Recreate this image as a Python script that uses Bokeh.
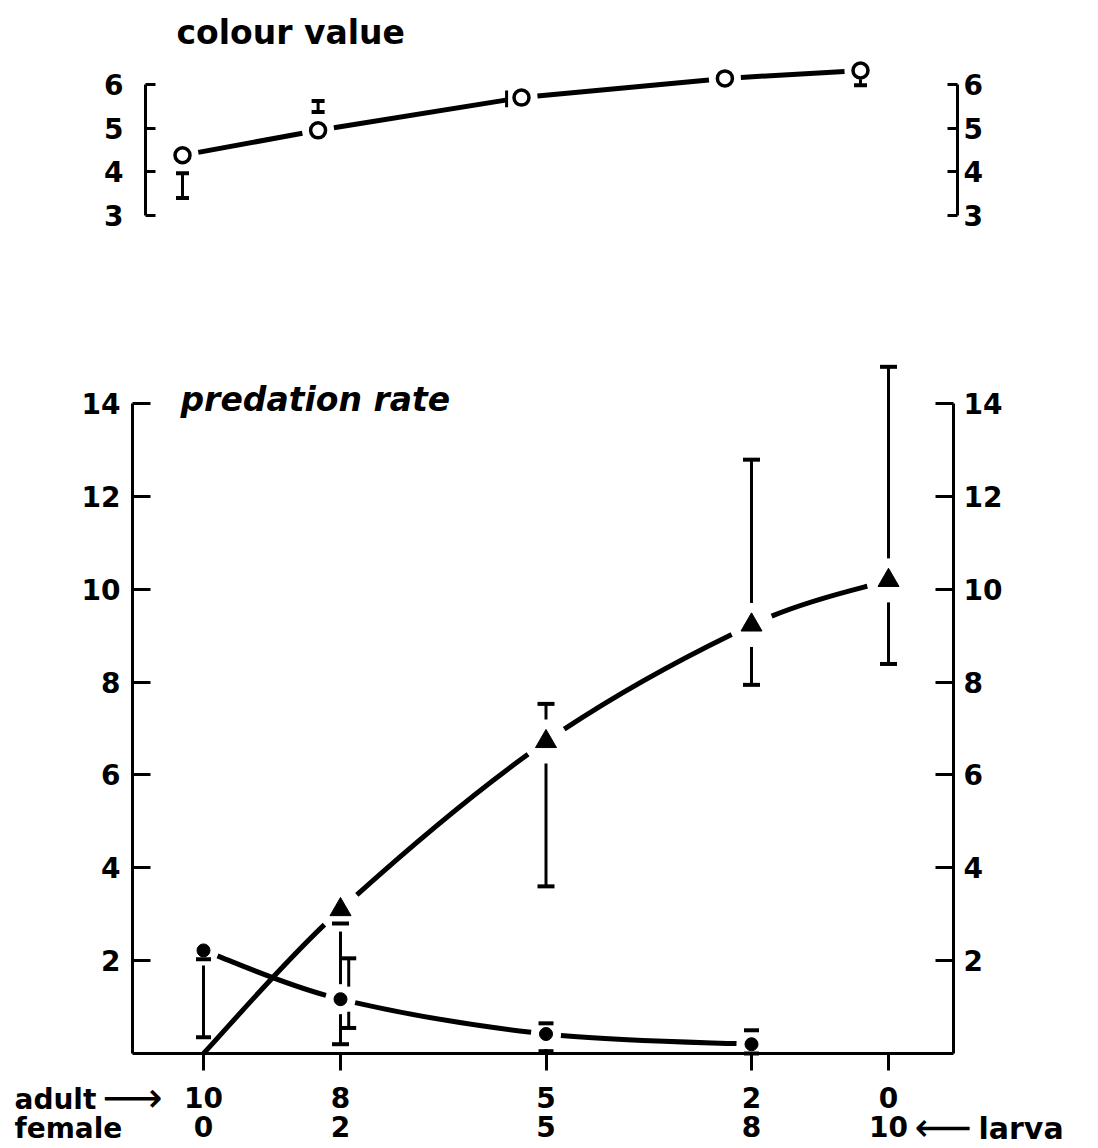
import math

from bokeh.core.properties import value
from bokeh.embed import file_html
from bokeh.layouts import column
from bokeh.models import FixedTicker, LinearAxis, Range1d
from bokeh.plotting import figure
from bokeh.resources import INLINE

nan = float("nan")

# ---- data -----------------------------------------------------------------
larva = [0, 2, 5, 8, 10]                 # larvae per 10 prey
adult_labels = ["10", "8", "5", "2", "0"]
larva_labels = ["0", "2", "5", "8", "10"]

# colour value of the prey mixture
colour_value = [4.38, 4.95, 5.70, 6.14, 6.32]
colour_low = [3.40, 5.37, 5.48, nan, 5.98]
colour_high = [3.97, 5.62, 5.86, nan, 6.12]

# predation rate, series drawn with triangles
tri_rate = [0.0, 3.10, 6.72, 9.23, 10.19]
tri_low = [nan, 0.20, 3.60, 7.94, 8.39]
tri_high = [nan, 2.80, 7.53, 12.79, 14.79]

# predation rate, series drawn with dots
dot_larva = [0, 2, 5, 8]
dot_rate = [2.22, 1.17, 0.42, 0.20]
dot_low = [0.35, 0.55, 0.05, 0.00]
dot_high = [2.03, 2.05, 0.65, 0.50]

# ---- styling ---------------------------------------------------------------
FONT = "DejaVu Sans"
TICK_FS = "28px"
TITLE_FS = "33px"
W = 1098
TOP_H = 250
BOT_H = 1148 - TOP_H
GAP_OPEN, GAP_TRI, GAP_DOT = 16, 22, 15   # clear space round each marker (px)


class Panel:
    """Linear map between data values and screen pixels of one panel."""

    def __init__(self, x0, ppx, yref, vref, ppy):
        self.x0, self.ppx, self.yref, self.vref, self.ppy = x0, ppx, yref, vref, ppy

    def X(self, x):
        return self.x0 + x * self.ppx

    def Y(self, y):
        return self.yref - (y - self.vref) * self.ppy

    def x(self, px):
        return (px - self.x0) / self.ppx

    def y(self, py):
        return self.vref + (self.yref - py) / self.ppy


def catmull_bezier(xs, ys):
    """Cubic segments of a smooth curve passing through every data point."""
    n = len(xs)
    segs = []
    for i in range(n - 1):
        im, ip = max(i - 1, 0), min(i + 2, n - 1)
        segs.append([
            (xs[i], ys[i]),
            (xs[i] + (xs[i + 1] - xs[im]) / 6, ys[i] + (ys[i + 1] - ys[im]) / 6),
            (xs[i + 1] - (xs[ip] - xs[i]) / 6, ys[i + 1] - (ys[ip] - ys[i]) / 6),
            (xs[i + 1], ys[i + 1]),
        ])
    return segs


def _lerp(a, b, t):
    return (a[0] + (b[0] - a[0]) * t, a[1] + (b[1] - a[1]) * t)


def _split(P, t):
    p01, p12, p23 = _lerp(P[0], P[1], t), _lerp(P[1], P[2], t), _lerp(P[2], P[3], t)
    p012, p123 = _lerp(p01, p12, t), _lerp(p12, p23, t)
    m = _lerp(p012, p123, t)
    return [P[0], p01, p012, m], [m, p123, p23, P[3]]


def _point(P, t):
    return _split(P, t)[0][3]


def trimmed_curve(panel, segs, gaps):
    """Shorten each cubic segment so it stops clear of the markers at its ends."""
    out = {k: [] for k in ("x0", "y0", "x1", "y1", "cx0", "cy0", "cx1", "cy1")}
    for i, seg in enumerate(segs):
        P = [(panel.X(a), panel.Y(b)) for a, b in seg]
        r0, r1 = gaps[i], gaps[i + 1]
        ta, tb = 0.0, 1.0
        if r0 > 0:
            lo, hi = 0.0, 1.0
            for _ in range(40):
                mid = (lo + hi) / 2
                if math.dist(_point(P, mid), P[0]) < r0:
                    lo = mid
                else:
                    hi = mid
            ta = lo
        if r1 > 0:
            lo, hi = 0.0, 1.0
            for _ in range(40):
                mid = (lo + hi) / 2
                if math.dist(_point(P, mid), P[3]) < r1:
                    hi = mid
                else:
                    lo = mid
            tb = hi
        _, R = _split(P, ta)
        S, _ = _split(R, (tb - ta) / (1 - ta))
        d = [(panel.x(a), panel.y(b)) for a, b in S]
        for key, (a, b) in zip((("x0", "y0"), ("cx0", "cy0"), ("cx1", "cy1"),
                                ("x1", "y1")), d):
            out[key[0]].append(a)
            out[key[1]].append(b)
    return out


def trimmed_polyline(panel, xs, ys, gap):
    x0, y0, x1, y1 = [], [], [], []
    for i in range(len(xs) - 1):
        P = (panel.X(xs[i]), panel.Y(ys[i]))
        Q = (panel.X(xs[i + 1]), panel.Y(ys[i + 1]))
        f = gap / math.dist(P, Q)
        a = _lerp(P, Q, f)
        b = _lerp(P, Q, 1 - f)
        x0.append(panel.x(a[0])); y0.append(panel.y(a[1]))
        x1.append(panel.x(b[0])); y1.append(panel.y(b[1]))
    return dict(x0=x0, y0=y0, x1=x1, y1=y1)


def bar_pieces(panel, xs, lows, highs, markers):
    """Vertical error strokes, broken where they pass close to a marker."""
    x0, y0, y1, cx, clo, chi = [], [], [], [], [], []
    for x, lo, hi in zip(xs, lows, highs):
        if math.isnan(lo):
            continue
        cx.append(x); clo.append(lo); chi.append(hi)
        pieces = [(lo, hi)]
        for mx, my, r in markers:
            dx = abs(panel.X(mx) - panel.X(x))
            if dx >= r:
                continue
            h = math.sqrt(r * r - dx * dx) / panel.ppy
            a, b = my - h, my + h
            kept = []
            for p, q in pieces:
                if b <= p or a >= q:
                    kept.append((p, q))
                    continue
                if a > p:
                    kept.append((p, a))
                if b < q:
                    kept.append((b, q))
            pieces = kept
        for p, q in pieces:
            x0.append(x); y0.append(p); y1.append(q)
    return dict(x0=x0, y0=y0, x1=x0, y1=y1), (cx, clo, chi)


def label_style(standoff):
    return dict(
        major_label_standoff=standoff,
        major_label_text_font=FONT, major_label_text_font_size=TICK_FS,
        major_label_text_font_style="bold", major_label_text_color="black",
    )


def side_axis(loc, ticks, bounds, tick_in, standoff):
    return LinearAxis(
        fixed_location=loc, ticker=FixedTicker(ticks=ticks), bounds=bounds,
        axis_line_width=3, axis_line_color="black",
        major_tick_line_width=3, major_tick_line_color="black",
        major_tick_in=tick_in, major_tick_out=0,
        minor_tick_line_color=None, **label_style(standoff),
    )


def draw_caps(p, x, y, cap=15):
    p.scatter(x=x, y=y, marker="dash", size=cap, line_width=4,
              line_color="black")


def bare_figure(height, x_range, y_range):
    p = figure(width=W, height=height, output_backend="svg",
               toolbar_location=None, x_axis_location=None,
               y_axis_location=None, x_range=x_range, y_range=y_range,
               min_border=0)
    p.outline_line_color = None
    p.grid.visible = False
    return p


def caption(p, x, y, text, size=TICK_FS, style="bold"):
    p.text(x=[x], y=[y], text=[text], text_font=value(FONT),
           text_font_size=size, text_font_style=style, text_color="black",
           text_align="left", text_baseline="middle")


# ---- top panel: colour value ----------------------------------------------
# larva 0 / 10 at screen x 182 / 860, colour value 6 / 3 at screen y 84 / 215
tp = Panel(182, (860 - 182) / 10, 84, 6, (215 - 84) / 3)
t_left, t_right = 145, 957    # screen x of the two value axes

top = bare_figure(TOP_H, Range1d(tp.x(0), tp.x(W)),
                  Range1d(tp.y(TOP_H), tp.y(0)))

top.add_layout(side_axis(tp.x(t_left), [3, 4, 5, 6], (3, 6), 10, 22), "left")
top.add_layout(side_axis(tp.x(t_right), [3, 4, 5, 6], (3, 6), 10, 6), "right")

top.segment(line_width=5, line_color="black",
            **trimmed_polyline(tp, larva, colour_value, GAP_OPEN))
# error strokes: the one at 5 larvae sits beside its marker
c_off = [0, 0, -0.22, 0, 0]
c_x = [l + o for l, o in zip(larva, c_off)]
c_bars, (cx, clo, chi) = bar_pieces(tp, c_x, colour_low, colour_high, [])
top.segment(line_width=3, line_color="black", **c_bars)
draw_caps(top, [cx[0], cx[0], cx[1], cx[1], cx[3]],
          [clo[0], chi[0], clo[1], chi[1], clo[3]], cap=13)
top.scatter(larva, colour_value, marker="circle", size=15,
            fill_color="white", line_color="black", line_width=3.5)

caption(top, tp.x(176), tp.y(32), "colour value", size=TITLE_FS)

# ---- bottom panel: predation rate -----------------------------------------
# larva 0 / 10 at screen x 203 / 888, rate 0 / 14 at page y 1053 / 403
bp = Panel(203, (888 - 203) / 10, 1053, 0, (1053 - 403) / 14)
b_left, b_right = 132, 953    # screen x of the two rate axes

bot = bare_figure(BOT_H, Range1d(bp.x(0), bp.x(W)),
                  Range1d(bp.y(1148), bp.y(TOP_H)))

rate_ticks = [2, 4, 6, 8, 10, 12, 14]
bot.add_layout(side_axis(bp.x(b_left), rate_ticks, (0, 14), 18, 12), "left")
bot.add_layout(side_axis(bp.x(b_right), rate_ticks, (0, 14), 18, 10), "right")

adult_axis = LinearAxis(
    fixed_location=0, bounds=(bp.x(b_left), bp.x(b_right)),
    ticker=FixedTicker(ticks=larva),
    major_label_overrides={l: s for l, s in zip(larva, adult_labels)},
    axis_line_width=3, axis_line_color="black",
    major_tick_line_width=3, major_tick_line_color="black",
    major_tick_in=0, major_tick_out=17, minor_tick_line_color=None,
    **label_style(16),
)
larva_axis = LinearAxis(
    fixed_location=0, ticker=FixedTicker(ticks=larva),
    major_label_overrides={l: s for l, s in zip(larva, larva_labels)},
    axis_line_color=None, major_tick_line_color=None,
    minor_tick_line_color=None, major_tick_in=0, major_tick_out=0,
    **label_style(62),
)
bot.add_layout(adult_axis, "below")
bot.add_layout(larva_axis, "below")

markers = ([(x, y, GAP_TRI) for x, y in zip(larva[1:], tri_rate[1:])] +
           [(x, y, GAP_DOT) for x, y in zip(dot_larva, dot_rate)])

# curves through the means, stopping short of each marker
bot.bezier(line_width=5, line_color="black",
           **trimmed_curve(bp, catmull_bezier(larva, tri_rate),
                           [0] + [GAP_TRI] * 4))
bot.bezier(line_width=5, line_color="black",
           **trimmed_curve(bp, catmull_bezier(dot_larva, dot_rate),
                           [GAP_DOT] * 4))

# error bars (the dot bar at 2 larvae is set slightly right of the triangle bar)
t_bars, (ex, elo, ehi) = bar_pieces(bp, larva, tri_low, tri_high, markers)
d_off = [0, 0.12, 0, 0]
d_x = [l + o for l, o in zip(dot_larva, d_off)]
d_bars, (dx, dlo, dhi) = bar_pieces(bp, d_x, dot_low, dot_high, markers)
bot.segment(line_width=3, line_color="black", **t_bars)
bot.segment(line_width=3, line_color="black", **d_bars)
draw_caps(bot, ex + ex, elo + ehi, cap=17)
draw_caps(bot, dx + dx, dlo + dhi, cap=15)

bot.scatter(larva[1:], tri_rate[1:], marker="triangle", size=21,
            fill_color="black", line_color="black", line_width=1)
bot.scatter(dot_larva, dot_rate, marker="circle", size=13,
            fill_color="black", line_color="black")

caption(bot, bp.x(180), bp.y(399), "predation rate", size=TITLE_FS,
        style="bold italic")

# captions beside the two rows of tick labels
caption(bot, bp.x(14), bp.y(1099), "adult")
caption(bot, bp.x(102), bp.y(1097), "⟶", size="42px", style="normal")
caption(bot, bp.x(14), bp.y(1128), "female")
caption(bot, bp.x(914), bp.y(1126), "⟵", size="40px", style="normal")
caption(bot, bp.x(978), bp.y(1128), "larva", size="30px")

layout = column(top, bot, spacing=0)
open("out.html", "w").write(file_html(layout, INLINE))
